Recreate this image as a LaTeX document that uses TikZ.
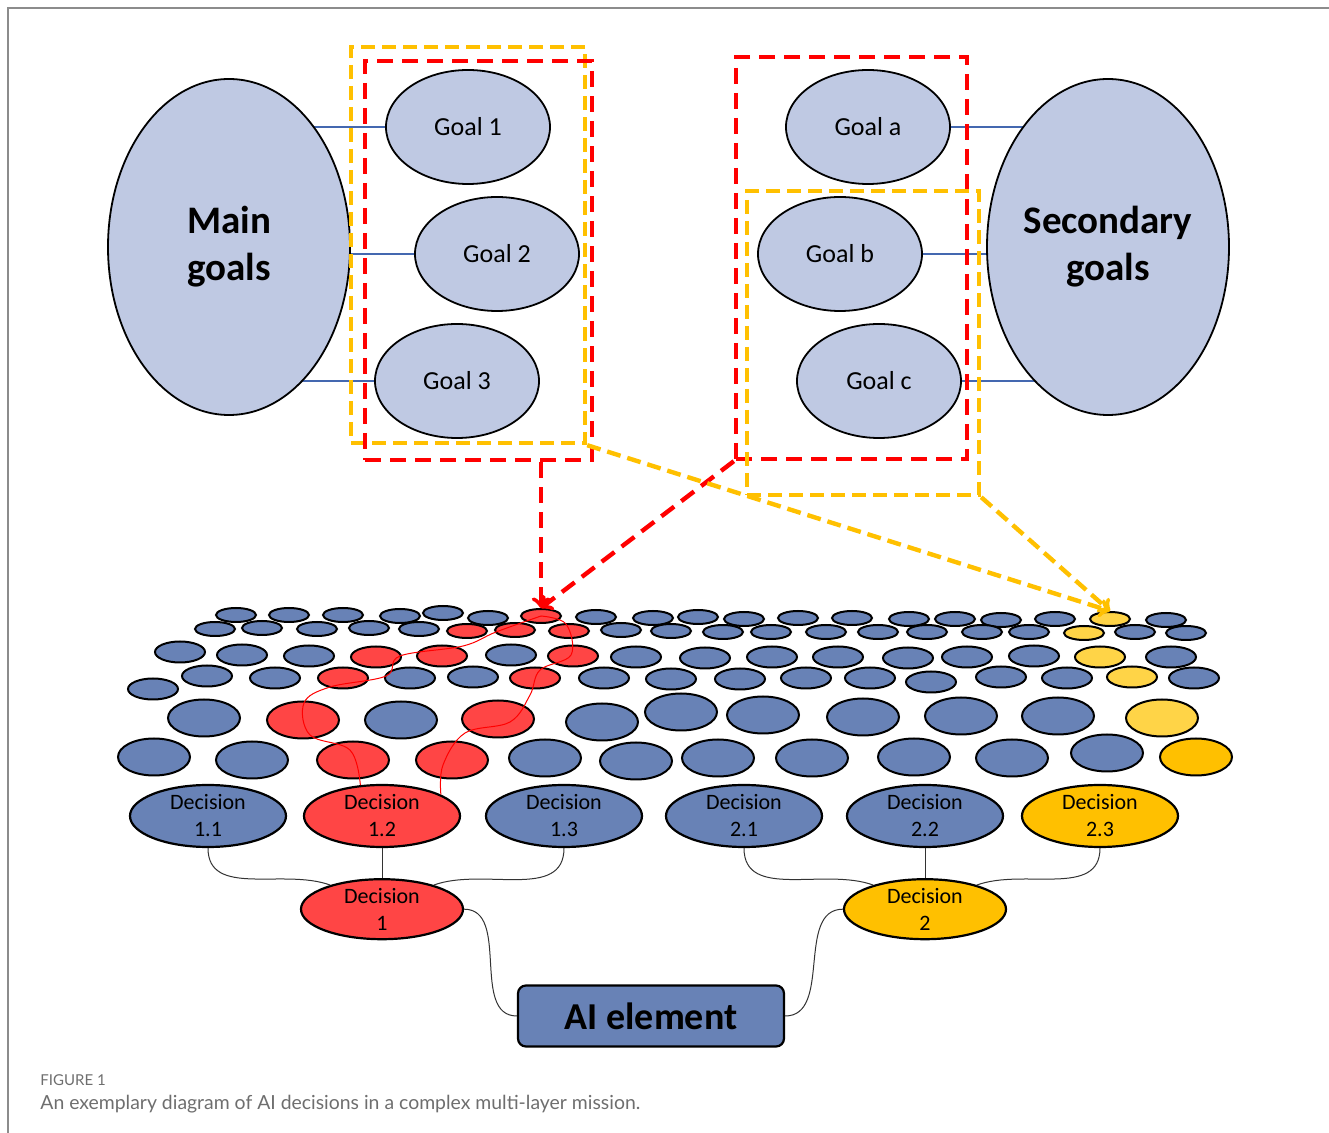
\documentclass[tikz,border=0pt]{standalone}
\usepackage{fontspec}
\setmainfont{Carlito}
\newfontfamily\capfont{Lato}
\usepackage{xcolor}
\usepackage{tikz}
\usetikzlibrary{positioning,shapes.geometric,backgrounds}
\definecolor{goalfill}{HTML}{BFC9E3}
\definecolor{cellblue}{HTML}{6882B6}
\definecolor{cellred}{HTML}{FF4545}
\definecolor{cellyellow}{HTML}{FFD447}
\definecolor{cellgold}{HTML}{FFC000}
\definecolor{linkblue}{HTML}{4468B0}
\definecolor{boxred}{HTML}{FF0000}
\definecolor{boxyellow}{HTML}{FFC000}
\definecolor{framegray}{HTML}{8C8C8C}
\definecolor{capgray}{HTML}{6E6E6E}

\begin{document}
\begin{tikzpicture}[x=0.5pt,y=-0.5pt,
goal/.style={ellipse,draw,line width=0.9pt,fill=goalfill,inner sep=0pt,
minimum width=82pt,minimum height=57pt,font=\fontsize{13}{15}\selectfont},
bigoal/.style={ellipse,draw,line width=0.9pt,fill=goalfill,inner sep=0pt,
minimum width=121pt,minimum height=168pt,align=center,
font=\fontsize{19.5}{23.5}\selectfont\bfseries},
cell/.style={ellipse,draw,line width=1pt,fill=#1,inner sep=0pt},
rowsmall/.style={minimum width=20pt,minimum height=7pt},
rowmid/.style={minimum width=25pt,minimum height=10.5pt},
rowbig/.style={minimum width=36pt,minimum height=18.5pt},
decision/.style={ellipse,draw,line width=1.1pt,fill=#1,inner sep=0pt,
minimum width=78pt,minimum height=31pt,align=center,
font=\fontsize{11}{13.5}\selectfont},
redframe/.style={draw=boxred,line width=2.2pt,dash pattern=on 8pt off 4.5pt},
yellowframe/.style={draw=boxyellow,line width=2.2pt,dash pattern=on 7pt off 3.5pt},
goallink/.style={draw=linkblue,line width=0.8pt},
treelink/.style={draw=black!80,line width=0.5pt},
trail/.style={draw=boxred,line width=0.5pt}]
\useasboundingbox (0,0) rectangle (1329,1133);
\draw[framegray,line width=1pt] (8,1133) -- (8,8) -- (1329,8);

% goals
\node[bigoal] (maingoals) at (229,247) {Main\\goals};
\node[bigoal] (secgoals) at (1108,247) {Secondary\\goals};
\node[goal] (goal1) at (468,127) {Goal 1};
\node[goal] (goal2) at (497,254) {Goal 2};
\node[goal] (goal3) at (457,381) {Goal 3};
\node[goal] (goala) at (868,127) {Goal a};
\node[goal] (goalb) at (840,254) {Goal b};
\node[goal] (goalc) at (879,381) {Goal c};
\begin{pgfonlayer}{background}
\foreach \g in {goal1,goal2,goal3}
  \draw[goallink] (\g.west) -- (maingoals.center |- \g.west);
\foreach \g in {goala,goalb,goalc}
  \draw[goallink] (\g.east) -- (secgoals.center |- \g.east);
\end{pgfonlayer}

\node[yellowframe,minimum width=117pt,minimum height=198pt] (mainyellow) at (468,245) {};
\node[redframe,minimum width=113.5pt,minimum height=199.5pt] (mainred) at (478.5,260.5) {};
\node[redframe,minimum width=115.5pt,minimum height=201pt] (secred) at (851.5,258) {};
\node[yellowframe,minimum width=116pt,minimum height=152pt] (secyellow) at (863,343) {};

% field of decisions
\foreach \x/\y/\c [count=\i] in {236/615/cellblue,289/615/cellblue,343/615/cellblue,
400/616/cellblue,443/613/cellblue,488/618/cellblue,541/616/cellred,596/617/cellblue,
653/618/cellblue,698/617/cellblue,744/619/cellblue,798/618/cellblue,852/618/cellblue,
909/619/cellblue,955/619/cellblue,1001/620/cellblue,1055/619/cellblue,1110/619/cellyellow,
1166/620/cellblue}
  \node[cell=\c,rowsmall] (A\i) at (\x,\y) {};
\foreach \x/\y/\c [count=\i] in {215/629/cellblue,262/628/cellblue,317/629/cellblue,
369/628/cellblue,419/629/cellblue,467/631/cellred,515/630/cellred,569/631/cellred,
621/630/cellblue,671/631/cellblue,723/632/cellblue,771/632/cellblue,826/632/cellblue,
878/632/cellblue,927/632/cellblue,982/632/cellblue,1029/632/cellblue,1084/633/cellyellow,
1135/632/cellblue,1186/633/cellblue}
  \node[cell=\c,rowsmall] (B\i) at (\x,\y) {};
\foreach \x/\y/\c [count=\i] in {180/652/cellblue,242/655/cellblue,309/656/cellblue,
376/657/cellred,442/656/cellred,511/655/cellblue,573/656/cellred,636/657/cellblue,
705/658/cellblue,772/657/cellblue,838/657/cellblue,908/658/cellblue,967/657/cellblue,
1034/656/cellblue,1100/657/cellyellow,1171/657/cellblue}
  \node[cell=\c,rowmid] (C\i) at (\x,\y) {};
\foreach \x/\y/\c [count=\i] in {153/689/cellblue,207/676/cellblue,275/678/cellblue,
343/678/cellred,410/678/cellblue,473/677/cellblue,535/678/cellred,604/678/cellblue,
671/679/cellblue,740/679/cellblue,806/678/cellblue,870/678/cellblue,931/682/cellblue,
1001/677/cellblue,1067/678/cellblue,1132/677/cellyellow,1194/678/cellblue}
  \node[cell=\c,rowmid] (D\i) at (\x,\y) {};
\foreach \x/\y/\c [count=\i] in {204/718/cellblue,303/720/cellred,401/720/cellblue,
498/719/cellred,602/722/cellblue,681/712/cellblue,763/715/cellblue,863/717/cellblue,
961/716/cellblue,1058/716/cellblue,1162/718/cellyellow}
  \node[cell=\c,rowbig] (E\i) at (\x,\y) {};
\foreach \x/\y/\c [count=\i] in {154/757/cellblue,252/760/cellblue,353/760/cellred,
452/760/cellred,545/758/cellblue,636/761/cellblue,718/758/cellblue,812/758/cellblue,
914/757/cellblue,1012/758/cellblue,1107/753/cellblue,1196/757/cellgold}
  \node[cell=\c,rowbig] (F\i) at (\x,\y) {};

% decisions
\node[decision=cellblue] (dec11) at (208,816) {Decision\\1.1};
\node[decision=cellred] (dec12) at (382,816) {Decision\\1.2};
\node[decision=cellblue] (dec13) at (564,816) {Decision\\1.3};
\node[decision=cellblue] (dec21) at (744,816) {Decision\\2.1};
\node[decision=cellblue] (dec22) at (925,816) {Decision\\2.2};
\node[decision=cellgold] (dec23) at (1100,816) {Decision\\2.3};
\node[decision=cellred,minimum width=81pt,minimum height=30pt] (dec1) [below=15pt of dec12] {Decision\\1};
\node[decision=cellgold,minimum width=81pt,minimum height=30pt] (dec2) [below=15pt of dec22] {Decision\\2};
\node[draw,line width=1.1pt,fill=cellblue,rounded corners=4pt,minimum width=133pt,
minimum height=30.5pt,font=\fontsize{19}{22}\selectfont\bfseries] (aielement) at (651,1016) {AI element};

\draw[treelink] (dec11.south) to[out=-90,in=160] (dec1.155);
\draw[treelink] (dec12.south) -- (dec1.north);
\draw[treelink] (dec13.south) to[out=-90,in=20] (dec1.25);
\draw[treelink] (dec21.south) to[out=-90,in=160] (dec2.155);
\draw[treelink] (dec22.south) -- (dec2.north);
\draw[treelink] (dec23.south) to[out=-90,in=20] (dec2.25);
\draw[treelink] (dec1.east) to[out=0,in=180] (aielement.west);
\draw[treelink] (dec2.west) to[out=180,in=0] (aielement.east);

% red trails through the field
\draw[trail] plot[smooth,tension=0.6] coordinates {(A7) (496,632) (463,646) (400,656)
(386,676) (330,687) (304,703) (310,735) (350,750) (dec12.125)};
\draw[trail] plot[smooth,tension=0.6] coordinates {(A7) (566,624) (571,655) (540,670)
(530,695) (510,722) (465,733) (443,765) (dec12.20)};

% links from the goal groups
\draw[redframe,->] (mainred.south -| A7) -- (A7.north);
\draw[redframe,->] (secred.south west) -- (A7.north);
\draw[yellowframe,->] (mainyellow.south east) -- (A18.north);
\draw[yellowframe,->] (secyellow.south east) -- (A18.north);

\node[anchor=west,inner sep=0pt,text=capgray,font=\capfont\fontsize{7.5}{9}\selectfont]
(figlabel) at (40,1080) {FIGURE 1};
\node[anchor=west,inner sep=0pt,text=capgray,font=\capfont\fontsize{9.7}{11.5}\selectfont]
(caption) at (40,1104) {An exemplary diagram of AI decisions in a complex multi-layer mission.};
\end{tikzpicture}
\end{document}
